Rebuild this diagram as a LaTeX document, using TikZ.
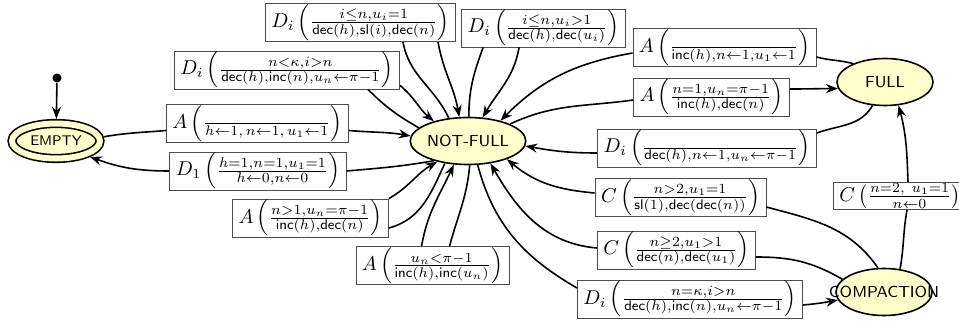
\documentclass[tikz,border=0pt]{standalone}
\usepackage{tikz}
\usetikzlibrary{shapes.geometric,arrows.meta,calc}
\usepackage{xcolor}
\usepackage{amsmath,amssymb}
\definecolor{statefill}{HTML}{FFFFCC}
\newcommand{\mdec}{\mathsf{dec}}
\newcommand{\minc}{\mathsf{inc}}
\newcommand{\msl}{\mathsf{sl}}

\begin{document}
\begin{tikzpicture}[x=0.5pt, y=-0.5pt,
  state/.style={ellipse, draw, thick, fill=statefill, minimum width=48pt, minimum height=23.5pt, inner sep=0pt, font=\footnotesize\sffamily},
  accept/.style={state, double=statefill, double distance=3pt, minimum width=44pt, minimum height=17.5pt, outer sep=2.3pt, font=\scriptsize\sffamily},
  lbl/.style={rectangle, draw=black!70, fill=white, inner xsep=3pt, inner ysep=0.5pt},
  link/.style={thick},
  arr/.style={thick, -{Stealth[length=6pt, width=4.5pt]}}
]
  \useasboundingbox (0,0) rectangle (959,326);
  % States
  \node[accept] (empty) at (56,141) {EMPTY};
  \node[state] (notfull) at (468,141) {NOT-FULL};
  \node[state] (full) at (885,82) {FULL};
  \node[state] (compaction) at (884,292) {\makebox[0pt]{COMPACTION}};
  \node[circle, fill, inner sep=0pt, minimum size=4.5pt] (init) at (57,78) {};
  % Transition labels
  \node[lbl] (lDa) at (360.5,22.5) {$D_i\left(\frac{i\leq n,u_i=1}{\mdec(h),\msl(i),\mdec(n)}\right)$};
  \node[lbl] (lDb) at (287,70) {$D_i\left(\frac{n<\kappa,i>n}{\mdec(h),\minc(n),u_n\leftarrow\pi-1}\right)$};
  \node[lbl] (lAa) at (257.5,123.5) {$A\left(\frac{}{h\leftarrow 1,\,n\leftarrow 1,\,u_1\leftarrow 1}\right)$};
  \node[lbl] (lDone) at (258,171) {$D_1\left(\frac{h=1,n=1,u_1=1}{h\leftarrow 0,n\leftarrow 0}\right)$};
  \node[lbl] (lAb) at (310.5,218) {$A\left(\frac{n>1,u_n=\pi-1}{\minc(h),\mdec(n)}\right)$};
  \node[lbl] (lAc) at (432.5,265.5) {$A\left(\frac{u_n<\pi-1}{\minc(h),\minc(u_n)}\right)$};
  \node[lbl] (lDc) at (543.5,28) {$D_i\left(\frac{i\leq n,u_i>1}{\mdec(h),\mdec(u_i)}\right)$};
  \node[lbl] (lAd) at (724.5,47.5) {$A\left(\frac{}{\minc(h),n\leftarrow 1,u_1\leftarrow 1}\right)$};
  \node[lbl] (lAe) at (711.5,97) {$A\left(\frac{n=1,u_n=\pi-1}{\minc(h),\mdec(n)}\right)$};
  \node[lbl] (lDd) at (707,148) {$D_i\left(\frac{}{\mdec(h),n\leftarrow 1,u_n\leftarrow\pi-1}\right)$};
  \node[lbl] (lCa) at (680.5,197.5) {$C\left(\frac{n>2,u_1=1}{\msl(1),\mdec(\mdec(n))}\right)$};
  \node[lbl] (lCb) at (676.5,250) {$C\left(\frac{n\geq 2,u_1>1}{\mdec(n),\mdec(u_1)}\right)$};
  \node[lbl] (lDe) at (690,299) {$D_i\left(\frac{n=\kappa,i>n}{\mdec(h),\minc(n),u_n\leftarrow\pi-1}\right)$};
  \node[lbl, anchor=west] (lCc) at (833,196) {$C\left(\frac{n=2,\ u_1=1}{n\leftarrow 0}\right)$};
  % Initial
  \draw[arr] (init) -- (empty);
  % EMPTY <-> NOT-FULL
  \draw[link] (empty.5) to[out=10, in=185] ($(lAa.west)+(0,7)$);
  \draw[arr] ($(lAa.east)+(0,7)$) to[out=-5, in=170] (notfull.175);
  \draw[link] (notfull.-150) to[out=-170, in=5] (lDone.east);
  \draw[arr] (lDone.west) to[out=180, in=-20] (empty.-25);
  % Self-loops on NOT-FULL
  \draw[link] (notfull.165) to[out=150, in=-45] ($(lDb.south west)+(194,0)$);
  \draw[arr] ($(lDb.south east)+(0,-4)$) to[out=-40, in=140] (notfull.150);
  \draw[link] (notfull.130) to[out=115, in=-80] ($(lDa.south west)+(138,0)$);
  \draw[arr] ($(lDa.south west)+(173,0)$) to[out=-80, in=100] (notfull.110);
  \draw[link] (notfull.88) to[out=90, in=-110] ($(lDc.south west)+(22,0)$);
  \draw[arr] ($(lDc.south west)+(58,0)$) to[out=-100, in=60] (notfull.58);
  \draw[link] (notfull.-136) to[out=-115, in=15] ($(lAb.east)+(0,10)$);
  \draw[arr] (lAb.north east) to[out=30, in=-150] (notfull.-146);
  \draw[link] (notfull.-86) to[out=-95, in=75] ($(lAc.north west)+(94,0)$);
  \draw[arr] ($(lAc.north west)+(66,0)$) to[out=80, in=-115] (notfull.-121);
  % NOT-FULL <-> FULL
  \draw[link] (full.150) to[out=165, in=-15] ($(lAd.east)+(0,9.5)$);
  \draw[arr] ($(lAd.west)+(0,5.5)$) to[out=190, in=45] (notfull.32);
  \draw[link] (notfull.22) to[out=25, in=188] ($(lAe.west)+(0,3)$);
  \draw[arr] ($(lAe.east)+(0,-8)$) to[out=0, in=180] (full.188);
  \draw[link] (full.-118) to[out=-120, in=20] ($(lDd.east)+(0,-15)$);
  \draw[arr] ($(lDd.west)+(0,5)$) to[out=180, in=-10] (notfull.-5);
  % COMPACTION
  \draw[link] (notfull.-68) to[out=-75, in=150] ($(lDe.west)+(0,-11)$);
  \draw[arr] ($(lDe.east)+(0,6)$) to[out=5, in=190] (compaction.190);
  \draw[link] (compaction.163) to[out=150, in=0] ($(lCb.east)+(0,7)$);
  \draw[arr] ($(lCb.west)+(0,-2)$) to[out=175, in=-60] (notfull.-45);
  \draw[link] (compaction.104) to[out=125, in=-15] ($(lCa.east)+(0,9.5)$);
  \draw[arr] ($(lCa.west)+(0,-4.5)$) to[out=175, in=-40] (notfull.-25);
  \draw[link] (compaction.55) to[out=80, in=-100] ($(lCc.south west)+(74,0)$);
  \draw[arr] ($(lCc.north west)+(75,0)$) to[out=92, in=-75] (full.-60);
\end{tikzpicture}
\end{document}
